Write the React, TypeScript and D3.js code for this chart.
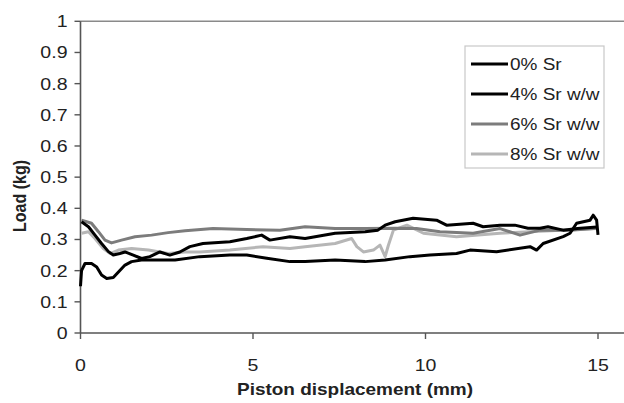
import React from "react";
import * as d3 from "d3";

const W = 624;
const H = 403;

const xTicks = [0, 5, 10, 15];
const yTicks = [0, 0.1, 0.2, 0.3, 0.4, 0.5, 0.6, 0.7, 0.8, 0.9, 1];
const seriesNames = ["0% Sr", "4% Sr w/w", "6% Sr w/w", "8% Sr w/w"];
const seriesColors = ["#000000", "#000000", "#7c7c7c", "#b6b6b6"];

// 0% Sr
const sr0X = [0.03, 0.23, 0.42, 0.61, 0.81, 0.95, 1.14, 1.29, 1.53, 1.77, 2.01, 2.3, 2.59, 2.88, 3.17, 3.55, 4.33, 4.82, 5.25, 5.49, 6.07, 6.51, 7.38, 8.25, 8.62, 8.83, 9.12, 9.64, 10.32, 10.61, 11.38, 11.67, 12.16, 12.59, 12.97, 13.32, 13.55, 13.99, 14.4, 14.97];
const sr0Y = [0.357, 0.341, 0.314, 0.287, 0.261, 0.25, 0.255, 0.26, 0.25, 0.239, 0.245, 0.26, 0.25, 0.26, 0.277, 0.287, 0.293, 0.303, 0.314, 0.298, 0.309, 0.303, 0.32, 0.325, 0.33, 0.346, 0.357, 0.368, 0.362, 0.346, 0.352, 0.341, 0.346, 0.346, 0.336, 0.336, 0.341, 0.33, 0.335, 0.34];

// 4% Sr w/w
const sr4X = [0, 0.03, 0.13, 0.32, 0.47, 0.61, 0.76, 0.95, 1.1, 1.29, 1.48, 1.77, 2.26, 2.74, 3.46, 4.33, 4.82, 5.4, 6.07, 6.51, 7.38, 8.25, 8.83, 9.55, 10.13, 10.9, 11.29, 12.06, 13.03, 13.22, 13.41, 13.99, 14.19, 14.38, 14.77, 14.86, 14.96, 15.0];
const sr4Y = [0.15, 0.2, 0.223, 0.223, 0.212, 0.186, 0.175, 0.178, 0.196, 0.218, 0.229, 0.234, 0.234, 0.234, 0.245, 0.25, 0.25, 0.24, 0.229, 0.229, 0.234, 0.229, 0.234, 0.245, 0.25, 0.255, 0.266, 0.261, 0.277, 0.266, 0.287, 0.309, 0.32, 0.352, 0.362, 0.378, 0.362, 0.315];

// 6% Sr w/w
const sr6X = [0.03, 0.32, 0.52, 0.71, 0.9, 1.19, 1.58, 2.06, 2.54, 3.03, 3.84, 4.82, 5.78, 6.51, 7.38, 8.25, 9.12, 9.74, 10.42, 11.38, 12.16, 12.74, 13.32, 14.19, 14.97];
const sr6Y = [0.362, 0.352, 0.325, 0.298, 0.289, 0.298, 0.309, 0.314, 0.322, 0.328, 0.335, 0.332, 0.33, 0.341, 0.335, 0.335, 0.336, 0.335, 0.325, 0.32, 0.335, 0.314, 0.33, 0.33, 0.336];

// 8% Sr w/w
const sr8X = [0.03, 0.23, 0.42, 0.66, 0.86, 1.1, 1.48, 1.97, 2.54, 3.03, 3.46, 4.33, 5.29, 6.07, 6.51, 7.38, 7.86, 8.01, 8.2, 8.49, 8.68, 8.83, 8.92, 9.07, 9.46, 9.94, 10.9, 12.16, 13.03, 14.97];
const sr8Y = [0.32, 0.325, 0.303, 0.271, 0.255, 0.266, 0.271, 0.266, 0.255, 0.26, 0.26, 0.266, 0.277, 0.271, 0.277, 0.287, 0.303, 0.277, 0.26, 0.266, 0.282, 0.245, 0.28, 0.33, 0.346, 0.32, 0.309, 0.32, 0.325, 0.335];

const seriesX = [sr0X, sr4X, sr6X, sr8X];
const seriesY = [sr0Y, sr4Y, sr6Y, sr8Y];

const X0 = 80.5;
const PX_PER_UNIT = 34.5;
const Y_TOP = 21.3;
const Y_BOT = 333;
const SX = 1.15; // horizontal text stretch of the reference
const FONT = "Liberation Sans, Arial, sans-serif";

export default function App() {
  const x = d3.scaleLinear().domain([0, 15]).range([X0, X0 + 15 * PX_PER_UNIT]);
  const y = d3.scaleLinear().domain([0, 1]).range([Y_BOT, Y_TOP]);
  const line = d3
    .line<[number, number]>()
    .x((d) => x(d[0]))
    .y((d) => y(d[1]));

  const drawOrder = [3, 2, 1, 0];

  return (
    <svg
      width={W}
      height={H}
      style={{ position: "absolute", left: 0, top: 0, background: "#fff" }}
      fontFamily={FONT}
    >
      <rect x={0} y={0} width={W} height={H} fill="#fff" />
      {/* top border */}
      <line x1={X0} x2={W} y1={y(1)} y2={y(1)} stroke="#8a8a8a" strokeWidth={1.6} />
      {/* y axis */}
      <line x1={X0} x2={X0} y1={y(1)} y2={y(0)} stroke="#555" strokeWidth={1.6} />
      {yTicks.map((t) => (
        <g key={"y" + t}>
          <line x1={X0 - 6} x2={X0} y1={y(t)} y2={y(t)} stroke="#555" strokeWidth={1.4} />
          <text
            transform={`translate(${X0 - 13},${y(t) + 6}) scale(${SX},1)`}
            textAnchor="end"
            fontSize={17}
            fill="#222"
          >
            {t === 0 || t === 1 ? String(t) : t.toFixed(1)}
          </text>
        </g>
      ))}
      {/* x axis */}
      <line x1={X0} x2={W} y1={y(0)} y2={y(0)} stroke="#555" strokeWidth={1.6} />
      {xTicks.map((t) => (
        <g key={"x" + t}>
          <line x1={x(t)} x2={x(t)} y1={y(0)} y2={y(0) + 6} stroke="#555" strokeWidth={1.4} />
          <text
            transform={`translate(${x(t)},${y(0) + 38}) scale(${SX},1)`}
            textAnchor="middle"
            fontSize={17}
            fill="#222"
          >
            {t}
          </text>
        </g>
      ))}
      {/* titles */}
      <text
        transform={`translate(355,395) scale(${SX},1)`}
        textAnchor="middle"
        fontSize={16.5}
        fontWeight="bold"
        fill="#222"
      >
        Piston displacement (mm)
      </text>
      <text
        transform={`translate(26,196) scale(${SX},1) rotate(-90)`}
        textAnchor="middle"
        fontSize={16}
        fontWeight="bold"
        fill="#222"
      >
        Load (kg)
      </text>
      {/* series */}
      {drawOrder.map((i) => {
        const pts = seriesX[i].map((v, k) => [v, seriesY[i][k]] as [number, number]);
        return (
          <path
            key={"s" + i}
            d={line(pts) || ""}
            fill="none"
            stroke={seriesColors[i]}
            strokeWidth={3}
            strokeLinejoin="round"
          />
        );
      })}
      {/* legend */}
      <rect x={465} y={46} width={139} height={122} fill="#fff" stroke="#c8c8c8" strokeWidth={1.2} />
      {seriesNames.map((n, i) => {
        const cy = 64 + i * 30;
        return (
          <g key={"l" + i}>
            <line x1={471} x2={508} y1={cy} y2={cy} stroke={seriesColors[i]} strokeWidth={3} />
            <text
              transform={`translate(510,${cy + 6}) scale(${SX},1)`}
              fontSize={16.5}
              fill="#222"
            >
              {n}
            </text>
          </g>
        );
      })}
    </svg>
  );
}
